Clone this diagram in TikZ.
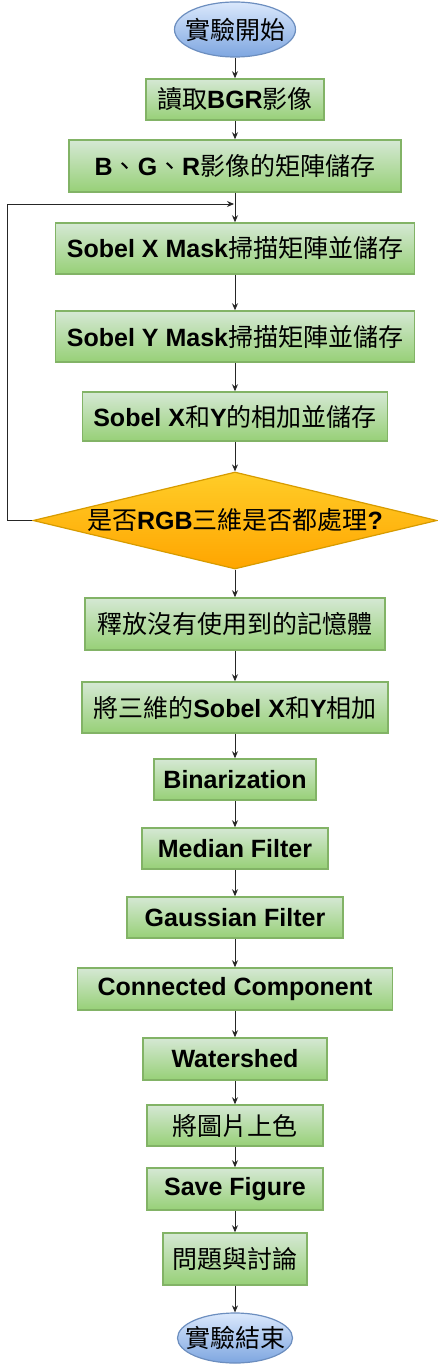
\documentclass[tikz,border=0pt]{standalone}
\usepackage{fontspec}
\setmainfont{Liberation Sans}
\newfontfamily\cjk{Noto Sans CJK TC}
\newcommand{\zh}[1]{{\mdseries\cjk #1}}
\usetikzlibrary{shapes.geometric,arrows.meta}
\definecolor{boxtop}{HTML}{D5E8D4}
\definecolor{boxbot}{HTML}{97D077}
\definecolor{boxline}{HTML}{82B366}
\definecolor{termtop}{HTML}{DAE8FC}
\definecolor{termbot}{HTML}{7EA6E0}
\definecolor{termline}{HTML}{6C8EBF}
\definecolor{dectop}{HTML}{FFCD28}
\definecolor{decbot}{HTML}{FFA500}
\definecolor{decline}{HTML}{D79B00}

\begin{document}
\begin{tikzpicture}[x=1pt,y=-1pt,
        txt/.style={font=\bfseries\fontsize{25}{30}\selectfont,text=black},
        proc/.style={rectangle,draw=boxline,line width=1.5pt,top color=boxtop,bottom color=boxbot,inner sep=2pt,txt},
        term/.style={ellipse,draw=termline,line width=1.2pt,top color=termtop,bottom color=termbot,inner sep=0pt},
        decision/.style={diamond,draw=decline,line width=1.2pt,top color=dectop,bottom color=decbot,inner sep=0pt},
        arr/.style={draw=black!85,line width=0.9pt,-{Stealth[length=7pt,width=6pt]}}]
    \useasboundingbox (0,0) rectangle (437,1364);
    \node[term,minimum width=121pt,minimum height=55pt,label={[txt]center:\zh{實驗開始}}] (start) at (235,29.5) {};
    \node[proc,minimum width=178pt,minimum height=41pt] (read) at (235,99.5) {\zh{讀取}BGR\zh{影像}};
    \node[proc,minimum width=332pt,minimum height=52pt] (store) at (235,166) {B\zh{、}G\zh{、}R\zh{影像的矩陣儲存}};
    \node[proc,minimum width=359pt,minimum height=51pt] (sobx) at (235,248.5) {Sobel X Mask\zh{掃描矩陣並儲存}};
    \node[proc,minimum width=359pt,minimum height=51pt] (soby) at (235,336.5) {Sobel Y Mask\zh{掃描矩陣並儲存}};
    \node[proc,minimum width=305pt,minimum height=49pt] (sum) at (235,416.5) {Sobel X\zh{和}Y\zh{的相加並儲存}};
    \node[decision,minimum width=404pt,minimum height=97pt] (dec) at (235,520.5) {};
    \node[txt] (dectext) at (dec) {\zh{是否}RGB\zh{三維是否都處理}?};
    \node[proc,minimum width=300pt,minimum height=52pt] (free) at (235,624) {\zh{釋放沒有使用到的記憶體}};
    \node[proc,minimum width=306pt,minimum height=51pt] (add) at (235,707.5) {\zh{將三維的}Sobel X\zh{和}Y\zh{相加}};
    \node[proc,minimum width=162pt,minimum height=41pt] (bin) at (235,779.5) {Binarization};
    \node[proc,minimum width=186pt,minimum height=41pt] (med) at (235,848.5) {Median Filter};
    \node[proc,minimum width=216pt,minimum height=41pt] (gau) at (235,917.5) {Gaussian Filter};
    \node[proc,minimum width=315pt,minimum height=42pt] (conn) at (235,989) {Connected Component};
    \node[proc,minimum width=184pt,minimum height=42pt] (water) at (235,1059) {Watershed};
    \node[proc,minimum width=176pt,minimum height=41pt] (color) at (235,1125.5) {\zh{將圖片上色}};
    \node[proc,minimum width=176pt,minimum height=42pt] (save) at (235,1189) {Save Figure};
    \node[proc,minimum width=144pt,minimum height=52pt] (disc) at (235,1259) {\zh{問題與討論}};
    \node[term,minimum width=115pt,minimum height=50pt,label={[txt]center:\zh{實驗結束}}] (stop) at (235,1338) {};
    % main flow
    \draw[arr] (start) -- (read);
    \draw[arr] (read) -- (store);
    \draw[arr] (store) -- (sobx);
    \draw[arr] (sobx) -- (soby);
    \draw[arr] (soby) -- (sum);
    \draw[arr] (sum) -- (dec);
    \draw[arr] (dec) -- (free);
    \draw[arr] (free) -- (add);
    \draw[arr] (add) -- (bin);
    \draw[arr] (bin) -- (med);
    \draw[arr] (med) -- (gau);
    \draw[arr] (gau) -- (conn);
    \draw[arr] (conn) -- (water);
    \draw[arr] (water) -- (color);
    \draw[arr] (color) -- (save);
    \draw[arr] (save) -- (disc);
    \draw[arr] (disc) -- (stop);
    % loop back
    \coordinate (lp) at (7,204);
    \coordinate (join) at (234,204);
    \draw[arr] (dec.west) -| (lp) -- (join);
\end{tikzpicture}
\end{document}
